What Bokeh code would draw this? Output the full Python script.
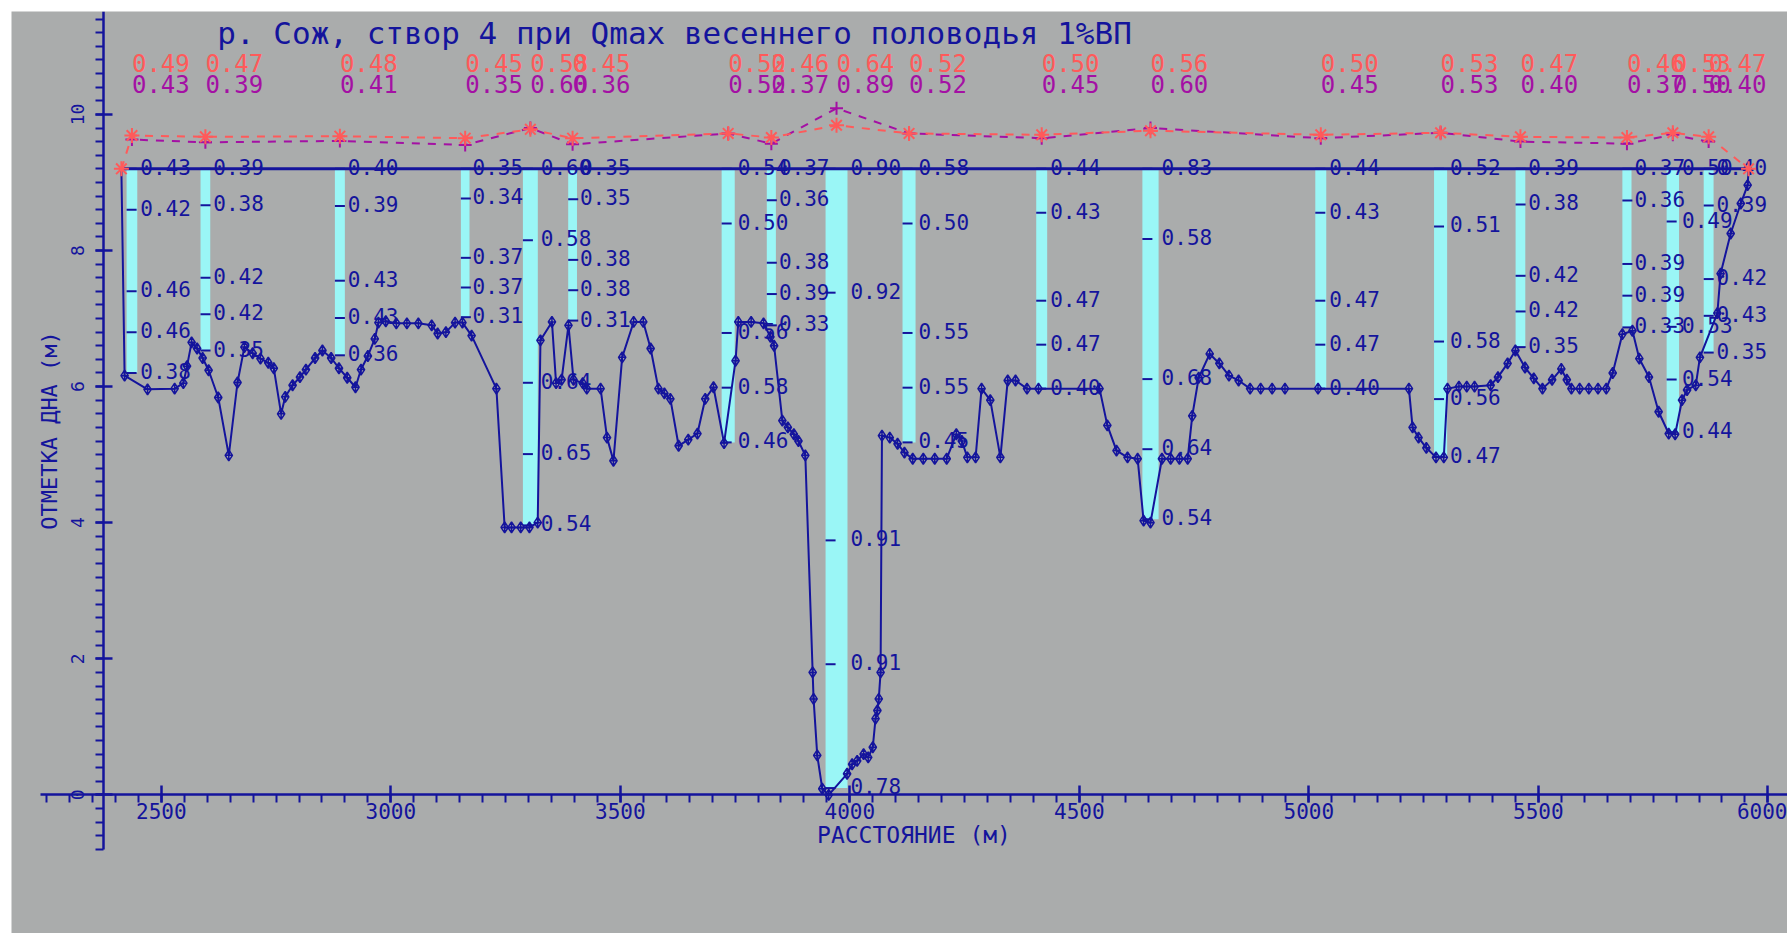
import numpy as np
from bokeh.plotting import figure
from bokeh.models import Range1d, LinearAxis, FixedTicker
from bokeh.core.properties import value
from bokeh.embed import file_html
from bokeh.resources import INLINE

# ---------------- data ----------------
TITLE = "р. Сож, створ 4 при Qmax весеннего половодья 1%ВП"
X_LABEL = "РАССТОЯНИЕ (м)"
Y_LABEL = "ОТМЕТКА ДНА (м)"

water_level = 9.2

profile_x = [2413, 2420, 2470, 2529, 2548, 2556, 2566, 2578, 2590, 2603,
             2624, 2647, 2666, 2681, 2699, 2716, 2733, 2745, 2761, 2770,
             2786, 2802, 2815, 2835, 2851, 2870, 2887, 2905, 2923, 2935,
             2950, 2965, 2973, 2989, 3012, 3035, 3060, 3089, 3102, 3120,
             3140, 3156, 3176, 3230, 3248, 3263, 3283, 3302, 3320, 3326,
             3351, 3360, 3372, 3387, 3398, 3418, 3427, 3457, 3471, 3485,
             3504, 3529, 3550, 3566, 3583, 3596, 3609, 3627, 3648, 3668,
             3685, 3703, 3726, 3751, 3757, 3785, 3812, 3827, 3835, 3853,
             3865, 3878, 3888, 3903, 3919, 3921, 3929, 3940, 3954, 3994,
             4005, 4016, 4030, 4040, 4050, 4056, 4060, 4063, 4067, 4070,
             4087, 4104, 4119, 4137, 4160, 4185, 4211, 4232, 4244, 4256,
             4274, 4287, 4306, 4328, 4344, 4361, 4386, 4411, 4544, 4561,
             4581, 4605, 4627, 4640, 4655, 4680, 4699, 4718, 4736, 4746,
             4760, 4784, 4805, 4826, 4847, 4872, 4895, 4920, 4948, 5020,
             5218, 5226, 5239, 5256, 5277, 5294, 5302, 5327, 5344, 5361,
             5396, 5412, 5433, 5450, 5471, 5490, 5509, 5530, 5550, 5562,
             5572, 5590, 5610, 5630, 5648, 5662, 5683, 5705, 5720, 5741,
             5762, 5784, 5798, 5813, 5824, 5843, 5852, 5890, 5897, 5919,
             5941, 5956, 5958]
profile_y = [9.19, 6.16, 5.96, 5.97, 6.05, 6.30, 6.65, 6.56, 6.42, 6.24,
             5.84, 4.99, 6.06, 6.58, 6.49, 6.41, 6.35, 6.27, 5.60, 5.85,
             6.02, 6.14, 6.25, 6.42, 6.53, 6.42, 6.27, 6.13, 5.99, 6.25,
             6.45, 6.70, 6.94, 6.96, 6.93, 6.93, 6.93, 6.90, 6.78, 6.80,
             6.94, 6.94, 6.75, 5.97, 3.93, 3.93, 3.93, 3.93, 4.00, 6.68,
             6.95, 6.05, 6.10, 6.90, 6.10, 6.05, 5.97, 5.97, 5.25, 4.91,
             6.43, 6.95, 6.95, 6.56, 5.97, 5.90, 5.82, 5.13, 5.22, 5.31,
             5.82, 5.99, 5.17, 6.38, 6.95, 6.95, 6.93, 6.73, 6.60, 5.50,
             5.40, 5.30, 5.20, 4.99, 1.80, 1.41, 0.58, 0.09, 0.00, 0.31,
             0.45, 0.50, 0.60, 0.55, 0.70, 1.12, 1.24, 1.41, 1.80, 5.28,
             5.25, 5.16, 5.03, 4.94, 4.94, 4.94, 4.94, 5.30, 5.20, 4.96,
             4.96, 5.97, 5.80, 4.96, 6.09, 6.09, 5.97, 5.97, 5.97, 5.43,
             5.06, 4.96, 4.94, 4.03, 4.00, 4.94, 4.94, 4.94, 4.94, 5.57,
             6.13, 6.48, 6.34, 6.16, 6.09, 5.97, 5.97, 5.97, 5.97, 5.97,
             5.97, 5.40, 5.25, 5.10, 4.96, 4.96, 5.97, 6.00, 6.00, 6.00,
             6.02, 6.14, 6.34, 6.53, 6.28, 6.12, 5.97, 6.10, 6.26, 6.10,
             5.97, 5.97, 5.97, 5.97, 5.97, 6.20, 6.77, 6.82, 6.41, 6.14,
             5.63, 5.31, 5.30, 5.80, 5.95, 6.02, 6.43, 7.08, 7.66, 8.25,
             8.69, 8.96, 9.19]

vert_x = [2436, 2596, 2889, 3162, 3304, 3396, 3735, 3829, 3971,
          4129, 4418, 4655, 5026, 5287, 5461, 5693, 5793, 5871]
vert_bottom = [6.20, 6.53, 6.46, 7.02, 3.96, 6.97, 5.18, 6.90, 0.10,
               5.18, 5.97, 4.05, 5.97, 4.97, 6.58, 6.87, 5.33, 6.50]
vel_surface = [0.43, 0.39, 0.40, 0.35, 0.60, 0.35, 0.54, 0.37, 0.90,
               0.58, 0.44, 0.83, 0.44, 0.52, 0.39, 0.37, 0.50, 0.40]
vel_02h = [0.42, 0.38, 0.39, 0.34, 0.58, 0.35, 0.50, 0.36, 0.92,
           0.50, 0.43, 0.58, 0.43, 0.51, 0.38, 0.36, 0.49, 0.39]
vel_06h = [0.46, 0.42, 0.43, 0.37, 0.64, 0.38, 0.56, 0.38, 0.91,
           0.55, 0.47, 0.68, 0.47, 0.58, 0.42, 0.39, 0.53, 0.42]
vel_08h = [0.46, 0.42, 0.43, 0.37, 0.65, 0.38, 0.58, 0.39, 0.91,
           0.55, 0.47, 0.64, 0.47, 0.56, 0.42, 0.39, 0.54, 0.43]
vel_bottom = [0.38, 0.35, 0.36, 0.31, 0.54, 0.31, 0.46, 0.33, 0.78,
              0.45, 0.40, 0.54, 0.40, 0.47, 0.35, 0.33, 0.44, 0.35]
depth_fraction = [0.0, 0.2, 0.6, 0.8, 1.0]

top_red = [0.49, 0.47, 0.48, 0.45, 0.58, 0.45, 0.52, 0.46, 0.64,
           0.52, 0.50, 0.56, 0.50, 0.53, 0.47, 0.46, 0.53, 0.47]
top_purple = [0.43, 0.39, 0.41, 0.35, 0.60, 0.36, 0.52, 0.37, 0.89,
              0.52, 0.45, 0.60, 0.45, 0.53, 0.40, 0.37, 0.50, 0.40]

x_ticks = [2500, 3000, 3500, 4000, 4500, 5000, 5500, 6000]
y_ticks = [0, 2, 4, 6, 8, 10]

# ---------------- style ----------------
GRAY = "#aaacac"
BLUE = "#14149c"
CYAN = "#9af6f6"
RED = "#ff5a5a"
PURPLE = "#a410a4"
FONT = "DejaVu Sans Mono"

p = figure(width=1776, height=922,
           x_range=Range1d(2173.6, 6042.8), y_range=Range1d(-2.037, 11.512),
           x_axis_type=None, y_axis_type=None,
           output_backend="svg", toolbar_location=None,
           min_border_left=0, min_border_right=0, min_border_top=0, min_border_bottom=0,
           background_fill_color=GRAY, border_fill_color=GRAY, outline_line_color=None,
           styles={"margin-left": "11px", "margin-top": "11px"})
p.title.visible = False

# axes crossing inside the drawing area, like the original
xaxis = LinearAxis(fixed_location=0.0, bounds=(2236.7, 6042.8),
                   ticker=FixedTicker(ticks=x_ticks, minor_ticks=list(range(2250, 6051, 50))))
xaxis.axis_label = X_LABEL
y_minor = [round(-0.8 + 0.2 * i, 1) for i in range(62)]
yaxis = LinearAxis(fixed_location=2374.0, bounds=(-0.80, 11.512),
                   ticker=FixedTicker(ticks=y_ticks, minor_ticks=y_minor))
yaxis.axis_label = Y_LABEL
yaxis.major_label_orientation = "vertical"
for ax in (xaxis, yaxis):
    ax.axis_line_color = BLUE
    ax.axis_line_width = 2.5
    ax.major_tick_line_color = BLUE
    ax.major_tick_line_width = 2.5
    ax.minor_tick_line_color = BLUE
    ax.minor_tick_line_width = 2
    ax.major_tick_in = 9
    ax.major_tick_out = 8
    ax.minor_tick_in = 0
    ax.minor_tick_out = 8
    ax.major_label_text_color = BLUE
    ax.major_label_text_font = FONT
    ax.axis_label_text_color = BLUE
    ax.axis_label_text_font = FONT
    ax.axis_label_text_font_style = "normal"
    ax.axis_label_text_font_size = "22px"
xaxis.axis_label_text_font_size = "23px"
xaxis.major_label_text_font_size = "21px"
xaxis.major_label_standoff = 0
xaxis.axis_label_standoff = 0
yaxis.major_label_text_font_size = "18px"
yaxis.major_label_standoff = 11
yaxis.axis_label_standoff = 7
p.add_layout(xaxis, "below")
p.add_layout(yaxis, "left")

# ---------------- velocity bars (verticals) ----------------
vels = list(zip(vel_surface, vel_02h, vel_06h, vel_08h, vel_bottom))
bar_w = [54.0 * float(np.mean(v)) for v in vels]
bar_left = [x - w / 2 for x, w in zip(vert_x, bar_w)]
bar_right = [x + w / 2 for x, w in zip(vert_x, bar_w)]
p.quad(left=bar_left, right=bar_right, bottom=vert_bottom,
       top=[water_level] * len(vert_x), fill_color=CYAN, line_color=None)

# measurement points: ticks and labels
lx, ly, lt, tx0, tx1 = [], [], [], [], []
for i in range(len(vert_x)):
    h = water_level - vert_bottom[i]
    for f, v in zip(depth_fraction, vels[i]):
        yy = water_level - f * h
        lx.append(bar_right[i]); ly.append(yy); lt.append(f"{v:.2f}")
        tx0.append(bar_left[i]); tx1.append(bar_left[i] + 21.8)
p.segment(x0=tx0, y0=ly, x1=tx1, y1=ly, line_color=BLUE, line_width=2)

# water surface
p.line([profile_x[0], profile_x[-1]], [water_level, water_level], line_color=BLUE, line_width=3)

p.text(x=lx, y=ly, text=lt, text_font=value(FONT), text_font_size="21px",
       text_color=BLUE, text_align="left", text_baseline="alphabetic",
       x_offset=3, y_offset=-2)

# ---------------- bottom profile ----------------
p.line(profile_x, profile_y, line_color=BLUE, line_width=2)
p.scatter(profile_x[1:-1], profile_y[1:-1], marker="diamond_cross", size=11,
          line_color=BLUE, fill_color=None, line_width=1.5)

# ---------------- dashed lines (water level + velocity) ----------------
red_x = [profile_x[0]] + vert_x + [profile_x[-1]]
red_y = [water_level] + [water_level + v for v in top_red] + [water_level]
pur_y = [water_level + v for v in top_purple]
p.line(vert_x, pur_y, line_color=PURPLE, line_width=2, line_dash="8 8", line_dash_offset=8)
p.line(red_x, red_y, line_color=RED, line_width=2, line_dash="8 8")
p.scatter(vert_x, pur_y, marker="cross", size=13, line_color=PURPLE, line_width=2)
p.scatter(red_x, red_y, marker="asterisk", size=15, line_color=RED, line_width=2)

# ---------------- top rows of values ----------------
p.text(x=vert_x, y=[10.75] * len(vert_x), text=[f"{v:.2f}" for v in top_red],
       text_font=value(FONT), text_font_size="24px", text_color=RED,
       text_align="left", text_baseline="middle", x_offset=0)
p.text(x=vert_x, y=[10.44] * len(vert_x), text=[f"{v:.2f}" for v in top_purple],
       text_font=value(FONT), text_font_size="24px", text_color=PURPLE,
       text_align="left", text_baseline="middle", x_offset=0)

# title inside the plot area
p.text(x=[2622], y=[11.19], text=[TITLE], text_font=value(FONT), text_font_size="31px",
       text_color=BLUE, text_align="left", text_baseline="middle")

open("out.html", "w").write(file_html(p, INLINE))
